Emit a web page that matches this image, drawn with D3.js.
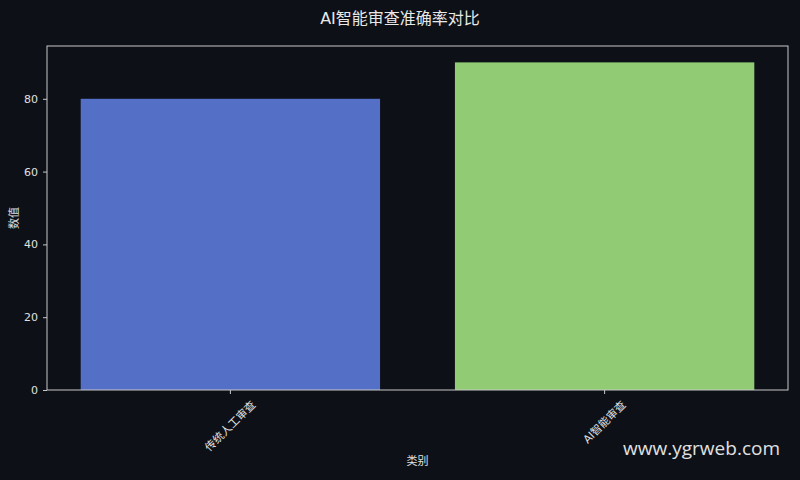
<!DOCTYPE html>
<html>
<head>
<meta charset="utf-8">
<script src="https://cdn.jsdelivr.net/npm/d3@7"></script>
<style>
  body { margin: 0; background: #0d1017; }
  text { font-family: "DejaVu Sans", "Noto Sans CJK SC", sans-serif; }
</style>
</head>
<body>
<div id="chart"></div>
<script>
const categories = ["传统人工审查", "AI智能审查"];
const values = [80, 90];
const colors = ["#5470c6", "#91cc75"];
const yTicks = [0, 20, 40, 60, 80];

const width = 800;
const height = 480;
const margin = { top: 46, right: 12, bottom: 90, left: 47 };
const innerW = width - margin.left - margin.right;
const innerH = height - margin.top - margin.bottom;

const svg = d3.select("#chart")
    .append("svg")
    .attr("width", width)
    .attr("height", height);

svg.append("rect")
    .attr("width", width)
    .attr("height", height)
    .attr("fill", "#0d1017");

// title
svg.append("text")
    .attr("x", width / 2)
    .attr("y", 24)
    .attr("text-anchor", "middle")
    .attr("fill", "#e8e8e8")
    .style("font-size", "16px")
    .text("AI智能审查准确率对比");

const g = svg.append("g")
    .attr("transform", `translate(${margin.left},${margin.top})`);

const x = d3.scaleBand()
    .domain(categories)
    .range([0, innerW])
    .paddingInner(0.2)
    .paddingOuter(0.09);

const y = d3.scaleLinear()
    .domain([0, d3.max(values) * 1.05])
    .range([innerH, 0]);

// bars
g.selectAll("rect.bar")
    .data(categories)
    .enter()
    .append("rect")
    .attr("class", "bar")
    .attr("x", d => x(d))
    .attr("y", (d, i) => y(values[i]))
    .attr("width", x.bandwidth())
    .attr("height", (d, i) => innerH - y(values[i]))
    .attr("fill", (d, i) => colors[i]);

// frame
g.append("rect")
    .attr("width", innerW)
    .attr("height", innerH)
    .attr("fill", "none")
    .attr("stroke", "#c8c8c8")
    .attr("stroke-width", 1);

// y axis
const yAxis = g.append("g")
    .call(d3.axisLeft(y).tickValues(yTicks).tickSize(4).tickPadding(5));
yAxis.select(".domain").remove();
yAxis.selectAll("line").attr("stroke", "#c8c8c8");
yAxis.selectAll("text").attr("fill", "#e0e0e0").style("font-size", "11px");

// x axis
const xAxis = g.append("g")
    .attr("transform", `translate(0,${innerH})`)
    .call(d3.axisBottom(x).tickSize(4).tickFormat(""));
xAxis.select(".domain").remove();
xAxis.selectAll("line").attr("stroke", "#c8c8c8");

// rotated category labels, top of rotated box just under the tick
categories.forEach(c => {
    const t = g.append("text")
        .attr("text-anchor", "middle")
        .attr("dominant-baseline", "central")
        .attr("fill", "#e0e0e0")
        .style("font-size", "11px")
        .text(c);
    const len = t.node().getComputedTextLength();
    const half = (len + 11) * Math.SQRT1_2 / 2;
    const cx = x(c) + x.bandwidth() / 2;
    t.attr("transform", `translate(${cx},${innerH + 9 + half}) rotate(-45)`);
});

// axis labels
svg.append("text")
    .attr("x", margin.left + innerW / 2)
    .attr("y", 465)
    .attr("text-anchor", "middle")
    .attr("fill", "#e0e0e0")
    .style("font-size", "11px")
    .text("类别");

svg.append("text")
    .attr("transform", `translate(18,${margin.top + innerH / 2}) rotate(-90)`)
    .attr("text-anchor", "middle")
    .attr("fill", "#e0e0e0")
    .style("font-size", "11px")
    .text("数值");

// watermark
svg.append("text")
    .attr("x", 780)
    .attr("y", 455)
    .attr("text-anchor", "end")
    .attr("fill", "#e0e0e0")
    .style("font-family", "'Open Sans', 'Noto Sans', sans-serif")
    .style("font-size", "19px")
    .text("www.ygrweb.com");
</script>
</body>
</html>
